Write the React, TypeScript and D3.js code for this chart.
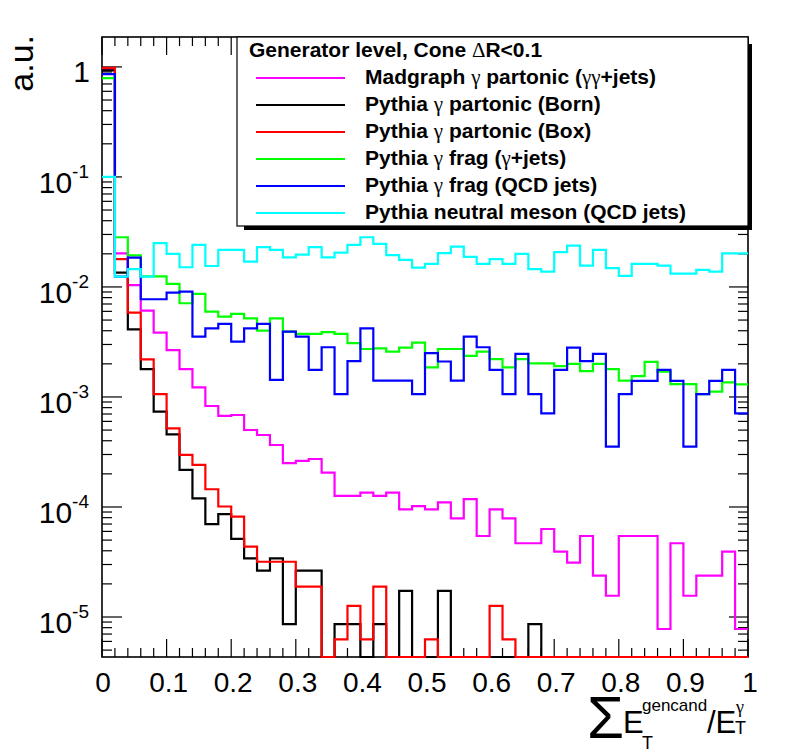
import React from 'react'
import * as d3 from 'd3'

// histogram binning: 50 bins on [0, 1]
const nBins = 50
const xMin = 0
const xMax = 1

// values per bin (0 = empty bin)
const madgraphPartonic = [
  0.96, 0.0202, 0.0104, 0.00609, 0.00384, 0.00267, 0.00179, 0.00122, 0.000828, 0.000672,
  0.000686, 0.000501, 0.000451, 0.000366, 0.00025, 0.000262, 0.000273, 0.000205, 0.000126, 0.000126,
  0.000135, 0.000126, 0.000135, 0.0000953, 0.000102, 0.0000953, 0.00011, 0.0000789, 0.000118, 0.0000545,
  0.0000953, 0.0000789, 0.0000468, 0.0000468, 0.0000631, 0.0000393, 0.0000312, 0.0000545, 0.0000238, 0.0000156,
  0.0000545, 0.0000545, 0.0000545, 0.00000778, 0.0000468, 0.0000156, 0.0000238, 0.0000238, 0.0000393, 0.00000778
]
const pythiaBorn = [
  0.93, 0.0135, 0.00412, 0.00179, 0.000736, 0.000458, 0.000217, 0.00012, 0.00007, 0.0000863,
  0.0000512, 0.0000341, 0.0000264, 0.0000341, 0.00000863, 0.0000264, 0.0000264, 0, 0.00000863, 0.00000863,
  0, 0.00000863, 0, 0.0000173, 0, 0, 0.0000173, 0, 0, 0,
  0, 0, 0, 0.00000863, 0, 0, 0, 0, 0, 0,
  0, 0, 0, 0, 0, 0, 0, 0, 0, 0
]
const pythiaBox = [
  0.98, 0.0179, 0.00584, 0.0022, 0.00106, 0.000519, 0.000297, 0.000241, 0.000145, 0.000101,
  0.0000817, 0.0000436, 0.0000318, 0.0000318, 0.0000318, 0.0000189, 0.0000189, 0, 0.00000627, 0.0000126,
  0.00000627, 0.0000189, 0, 0, 0, 0.00000627, 0, 0, 0, 0,
  0.0000126, 0.00000627, 0, 0, 0, 0, 0, 0, 0, 0,
  0, 0, 0, 0, 0, 0, 0, 0, 0, 0
]
const pythiaFragGammaJets = [
  0.79, 0.0283, 0.0194, 0.0125, 0.0125, 0.01065, 0.00711, 0.00864, 0.00596, 0.00537,
  0.00568, 0.00519, 0.00401, 0.00519, 0.00392, 0.00374, 0.00374, 0.00388, 0.00374, 0.00308,
  0.00273, 0.00277, 0.00258, 0.00281, 0.00312, 0.00186, 0.00273, 0.00273, 0.00236, 0.00258,
  0.00221, 0.00186, 0.00221, 0.00202, 0.00202, 0.00191, 0.002, 0.00172, 0.002, 0.00179,
  0.00141, 0.00155, 0.00208, 0.0017, 0.00131, 0.00131, 0.00106, 0.00112, 0.00136, 0.0013
]
const pythiaFragQCD = [
  0.86, 0.0124, 0.0185, 0.00773, 0.00773, 0.00888, 0.00907, 0.00353, 0.00421, 0.00461,
  0.00318, 0.00421, 0.00461, 0.00143, 0.00392, 0.00353, 0.00176, 0.00283, 0.00106, 0.00212,
  0.00421, 0.00141, 0.00141, 0.00141, 0.00106, 0.0025, 0.0021, 0.00141, 0.00353, 0.00283,
  0.00176, 0.00106, 0.00246, 0.00106, 0.00071, 0.00176, 0.00281, 0.00212, 0.00246, 0.000353,
  0.00106, 0.0014, 0.0014, 0.00176, 0.0014, 0.000353, 0.00106, 0.0014, 0.00176, 0.00071
]
const neutralMeson = [
  0.1, 0.0124, 0.0145, 0.0124, 0.025, 0.02, 0.0151, 0.0241, 0.0155, 0.0217,
  0.0217, 0.017, 0.023, 0.0217, 0.0186, 0.0197, 0.023, 0.0186, 0.0205, 0.0241,
  0.0283, 0.0246, 0.0195, 0.0176, 0.015, 0.0162, 0.0203, 0.0233, 0.0188, 0.0162,
  0.0179, 0.0162, 0.02, 0.0145, 0.0138, 0.0207, 0.0237, 0.0156, 0.0217, 0.0148,
  0.0126, 0.0162, 0.0162, 0.0156, 0.0132, 0.0132, 0.0143, 0.0138, 0.0202, 0.0202
]

const seriesLabels = [
  'Madgraph γ partonic (γγ+jets)',
  'Pythia γ partonic (Born)',
  'Pythia γ partonic (Box)',
  'Pythia γ frag (γ+jets)',
  'Pythia γ frag (QCD jets)',
  'Pythia neutral meson (QCD jets)'
]
const seriesColors = ['#ff00ff', '#000000', '#ff0000', '#00ff00', '#0000ff', '#00ffff']
const seriesValues = [madgraphPartonic, pythiaBorn, pythiaBox, pythiaFragGammaJets, pythiaFragQCD, neutralMeson]

const legendHeader = 'Generator level, Cone ΔR<0.1'
const xTickValues = [0, 0.1, 0.2, 0.3, 0.4, 0.5, 0.6, 0.7, 0.8, 0.9, 1]
const xTickLabels = ['0', '0.1', '0.2', '0.3', '0.4', '0.5', '0.6', '0.7', '0.8', '0.9', '1']
const yDecades = [0, -1, -2, -3, -4, -5]
const yDomain: [number, number] = [4.33e-6, 1.87]

const W = 788
const H = 756
const margin = { top: 37, right: 40, bottom: 99, left: 102 }
const plotL = margin.left
const plotR = W - margin.right
const plotT = margin.top
const plotB = H - margin.bottom

const FONT = '"Liberation Sans", Arial, Helvetica, sans-serif'
const SYM = '"Liberation Serif", "DejaVu Serif", serif'

const x = d3.scaleLinear().domain([xMin, xMax]).range([plotL, plotR])
const y = d3.scaleLog().domain(yDomain).range([plotB, plotT])

const binW = (xMax - xMin) / nBins

// ROOT-style step outline, empty bins sit on the x axis
const stepPath = (vals: number[]) => {
  const pts: [number, number][] = []
  vals.forEach((v, i) => {
    const yy = v > 0 ? Math.min(y(v), plotB) : plotB
    pts.push([x(xMin + i * binW), yy])
    pts.push([x(xMin + (i + 1) * binW), yy])
  })
  return d3.line()(pts) || ''
}

// split a label so greek letters use the symbol-like font
const withGreek = (s: string) =>
  s.split(/([γΔ]+)/).filter(p => p.length).map((p, i) =>
    /[γΔ]/.test(p)
      ? <tspan key={i} fontFamily={SYM} fontWeight="normal">{p}</tspan>
      : <tspan key={i}>{p}</tspan>
  )

const App: React.FC = () => {
  // log ticks
  const majorY = yDecades.map(e => Math.pow(10, e))
  const minorY: number[] = []
  yDecades.concat([-6]).forEach(e => {
    for (let m = 2; m <= 9; m++) {
      const v = m * Math.pow(10, e)
      if (v >= yDomain[0] && v <= yDomain[1]) minorY.push(v)
    }
  })
  const minorX = d3.range(0, nBins + 1).map(i => xMin + i * binW)

  const legend = { x: 237, y: plotT, w: plotR - 237, h: 189 }
  const rowH = 27

  return (
    <div style={{ position: 'absolute', left: 0, top: 0 }}>
      <svg width={W} height={H} style={{ display: 'block', background: '#fff' }}>
        <rect x={0} y={0} width={W} height={H} fill="#fff" />

        {/* ticks */}
        <g stroke="#000" strokeWidth={1.2}>
          {majorY.map(v => (
            <g key={'my' + v}>
              <line x1={plotL} x2={plotL + 20} y1={y(v)} y2={y(v)} />
              <line x1={plotR} x2={plotR - 19} y1={y(v)} y2={y(v)} />
            </g>
          ))}
          {minorY.map(v => (
            <g key={'ny' + v}>
              <line x1={plotL} x2={plotL + 10} y1={y(v)} y2={y(v)} />
              <line x1={plotR} x2={plotR - 10} y1={y(v)} y2={y(v)} />
            </g>
          ))}
          {minorX.map((v, i) => {
            const len = i % 5 === 0 ? 18 : 9
            return (
              <g key={'nx' + i}>
                <line x1={x(v)} x2={x(v)} y1={plotB} y2={plotB - len} />
                <line x1={x(v)} x2={x(v)} y1={plotT} y2={plotT + len} />
              </g>
            )
          })}
        </g>
        <rect x={plotL} y={plotT} width={plotR - plotL} height={plotB - plotT}
          fill="none" stroke="#000" strokeWidth={1.6} />

        {/* histograms */}
        {seriesValues.map((vals, i) => (
          <path key={i} d={stepPath(vals)} fill="none" stroke={seriesColors[i]}
            strokeWidth={2.2} strokeLinejoin="miter" />
        ))}

        {/* y tick labels */}
        <g fontFamily={FONT} fill="#000">
          {yDecades.map(e => (
            e === 0
              ? <text key={e} x={90} y={y(1) + 15} fontSize={30} textAnchor="end">1</text>
              : <text key={e} x={89} y={y(Math.pow(10, e)) + 16} fontSize={30} textAnchor="end">
                  10<tspan dy={-15} fontSize={19}>{'-' + (-e)}</tspan>
                </text>
          ))}
        </g>

        {/* x tick labels */}
        <g fontFamily={FONT} fill="#000" fontSize={28} textAnchor="middle">
          {xTickValues.map((v, i) => (
            <text key={v} x={x(v) + (i === 0 ? 1 : 2)} y={692}>{xTickLabels[i]}</text>
          ))}
        </g>

        {/* axis titles */}
        <text transform="translate(33,35) rotate(-90)" fontFamily={FONT} fontSize={34} textAnchor="end">a.u.</text>
        <g fontFamily={FONT} fill="#000">
          <text x={587} y={738} fontSize={60}>Σ</text>
          <text x={623} y={733} fontSize={31}>E</text>
          <text x={642} y={711} fontSize={17}>gencand</text>
          <text x={642} y={749} fontSize={18}>T</text>
          <text x={707} y={733} fontSize={31}>/E</text>
          <text x={736} y={713} fontSize={18} fontFamily={SYM}>γ</text>
          <text x={735} y={734} fontSize={18}>T</text>
        </g>

        {/* legend */}
        <rect x={legend.x + 7} y={legend.y + 7} width={legend.w - 3} height={legend.h - 3} fill="#000" />
        <rect x={legend.x} y={legend.y} width={legend.w} height={legend.h} fill="#fff" stroke="#000" strokeWidth={1.2} />
        <g fontFamily={FONT} fontWeight="bold" fontSize={21} fill="#000">
          <text x={249} y={57}>{withGreek(legendHeader)}</text>
          {seriesLabels.map((lab, i) => {
            const ly = 78 + i * rowH
            return (
              <g key={lab}>
                <line x1={256} x2={345} y1={ly} y2={ly} stroke={seriesColors[i]} strokeWidth={2} />
                <text x={365} y={ly + 6}>{withGreek(lab)}</text>
              </g>
            )
          })}
        </g>
      </svg>
    </div>
  )
}

export default App
